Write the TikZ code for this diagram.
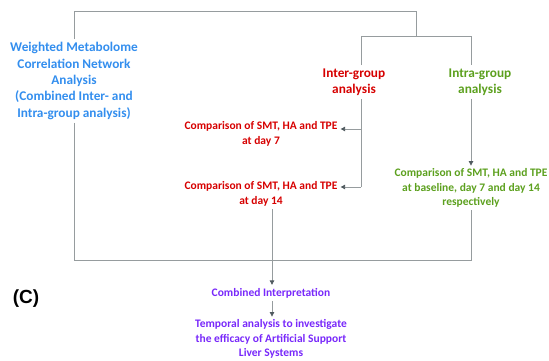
\documentclass[tikz,border=0pt]{standalone}
\usepackage{fontspec}
\setmainfont{Carlito}
\newfontfamily\arialfont{Liberation Sans}
\usetikzlibrary{arrows.meta}
\definecolor{wblue}{RGB}{51,142,238}
\definecolor{ired}{RGB}{214,0,0}
\definecolor{igreen}{RGB}{92,160,30}
\definecolor{cpurple}{RGB}{120,40,250}
\definecolor{lgray}{RGB}{150,156,158}
\definecolor{agray}{RGB}{80,90,95}
\begin{document}
\begin{tikzpicture}[x=1pt, y=-1pt,
    txt/.style={align=center, font=\bfseries\fontsize{11.5}{14.3}\selectfont, inner sep=3pt},
    bigtxt/.style={align=center, font=\bfseries\fontsize{13.3}{16.4}\selectfont, inner sep=3pt},
    line/.style={draw=lgray, line width=0.8pt},
    arrow/.style={line, -{Triangle[length=4.5pt,width=4.5pt,fill=agray,color=agray]}}]
	\useasboundingbox (0,0) rectangle (549,361);
	\node[bigtxt, text=wblue] (wmcn) at (74,81) {Weighted Metabolome\\Correlation Network\\Analysis\\(Combined Inter- and\\Intra-group analysis)};
	\node[bigtxt, text=ired] (inter) at (354,82) {Inter-group\\analysis};
	\node[bigtxt, text=igreen] (intra) at (480,82) {Intra-group\\analysis};
	\node[txt, text=ired] (d7) at (261,134) {Comparison of SMT, HA and TPE\\at day 7};
	\node[txt, text=ired] (d14) at (261,194) {Comparison of SMT, HA and TPE\\at day 14};
	\node[txt, text=igreen] (base) at (471,188) {Comparison of SMT, HA and TPE\\at baseline, day 7 and day 14\\respectively};
	\node[txt, text=cpurple] (comb) at (271,293) {Combined Interpretation};
	\node[txt, text=cpurple] (temp) at (271,339) {Temporal analysis to investigate\\the efficacy of Artificial Support\\Liver Systems};
	\node[font=\arialfont\bfseries\fontsize{19}{22}\selectfont] (panel) at (26,299) {(C)};
	% junctions
	\coordinate (topR) at (416,11);
	\coordinate (split) at (416,36);
	\coordinate (iL) at (361,36);
	\coordinate (iR) at (471,36);
	\coordinate (a7) at (361,129);
	\coordinate (a14) at (361,187);
	\coordinate (botR) at (471,260);
	\coordinate (botM) at (272,260);
	% top bracket
	\draw[line] (wmcn.north) |- (topR) -- (split);
	\draw[line] (inter.north -| iL) -- (iL) -- (iR) -- (intra.north -| iR);
	% inter-group branch
	\draw[line] (inter.south -| iL) -- (a14);
	\draw[arrow] (a7) -- (a7 -| d7.east);
	\draw[arrow] (a14) -- (a14 -| d14.east);
	% intra-group branch
	\draw[arrow] (intra.south -| iR) -- (base.north -| iR);
	% bottom bracket
	\draw[line] (wmcn.south) |- (botR) -- (base.south);
	\draw[line] (d14.south -| botM) -- (botM);
	\draw[arrow] (botM) -- (comb.north -| botM);
	\draw[arrow] (comb.south -| botM) -- (temp.north -| botM);
\end{tikzpicture}
\end{document}
